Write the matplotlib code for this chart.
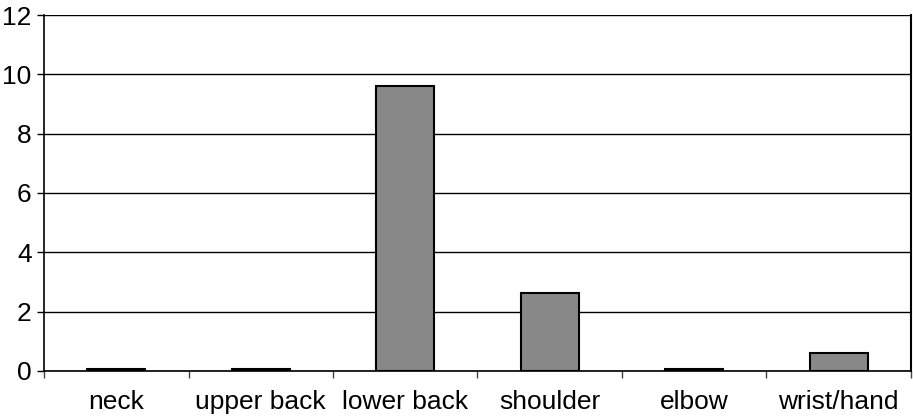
import numpy as np
import matplotlib
matplotlib.use('Agg')
import matplotlib.pyplot as plt

# body region vs value
regions = ['neck', 'upper back', 'lower back', 'shoulder', 'elbow', 'wrist/hand']
values = [0.06, 0.06, 9.62, 2.62, 0.06, 0.62]

plt.rcParams['font.family'] = ['Liberation Sans', 'DejaVu Sans']

fig = plt.figure(figsize=(9.13, 4.19), dpi=100)
ax = fig.add_axes([0.0482, 0.1146, 0.9496, 0.8496])

x = np.arange(len(regions))
ax.bar(x, values, width=0.4, color='#888888', edgecolor='black', linewidth=1.5, zorder=3)

ax.set_ylim(0, 12)
ax.set_xlim(-0.5, len(regions) - 0.5)
ax.set_yticks(np.arange(0, 13, 2))
ax.yaxis.grid(True, color='black', linewidth=1)
ax.set_axisbelow(True)

ax.set_xticks(x)
ax.set_xticklabels(regions)
ax.set_xticks(np.arange(-0.5, len(regions)), minor=True)
ax.tick_params(axis='x', which='major', length=0, pad=14, labelsize=19)
ax.tick_params(axis='x', which='minor', length=5, width=1, color='#444444')
ax.tick_params(axis='y', length=5, width=1, labelsize=19, pad=4)

ax.spines['top'].set_visible(False)
ax.spines['left'].set_linewidth(1.2)
ax.spines['right'].set_linewidth(1.5)
ax.spines['bottom'].set_linewidth(1.2)

fig.savefig('out.png', dpi=100)
